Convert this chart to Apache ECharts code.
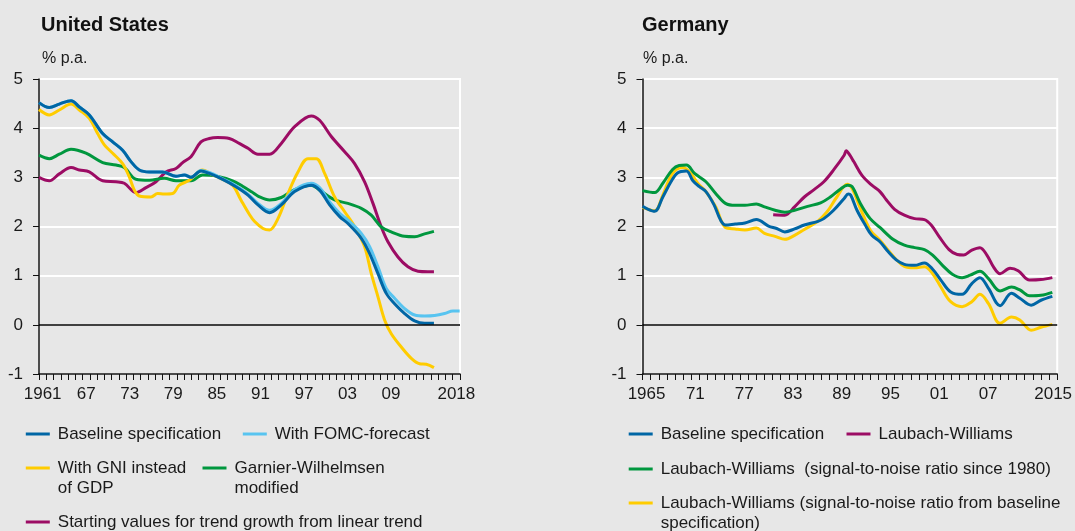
<!DOCTYPE html>
<html>
<head>
<meta charset="utf-8">
<script src="https://cdn.jsdelivr.net/npm/echarts@6/dist/echarts.min.js"></script>
<style>
html,body{margin:0;padding:0;background:#e7e7e7;}
#chart{width:1075px;height:531px;}
</style>
</head>
<body>
<div id="chart"></div>
<script>
// ---------- categories / tick labels ----------
const usYears = [];
for (let y = 1961; y <= 2018; y++) usYears.push(String(y));
const deYears = [];
for (let y = 1965; y <= 2015; y++) deYears.push(String(y));
const usTickYears  = ['1961','1967','1973','1979','1985','1991','1997','2003','2009','2018'];
const usTickLabels = ['1961','67','73','79','85','91','97','03','09','2018'];
const deTickYears  = ['1965','1971','1977','1983','1989','1995','2001','2007','2015'];
const deTickLabels = ['1965','71','77','83','89','95','01','07','2015'];

// ---------- United States series ([year, % p.a.]) ----------
const usBaseline = [[1961.0,4.52],[1962.42,4.42],[1963.8,4.49],[1965.41,4.56],[1966.56,4.43],[1967.93,4.27],[1969.77,3.89],[1971.15,3.72],[1972.52,3.55],[1973.67,3.32],[1974.82,3.15],[1976.2,3.11],[1978.03,3.11],[1979.87,3.02],[1981.02,3.05],[1981.94,3.0],[1983.31,3.13],[1984.46,3.08],[1986.3,2.96],[1988.13,2.81],[1989.79,2.64],[1991.17,2.44],[1992.77,2.28],[1994.38,2.44],[1996.22,2.71],[1998.51,2.84],[1999.66,2.74],[2001.04,2.44],[2002.42,2.20],[2003.56,2.06],[2005.4,1.76],[2006.55,1.45],[2007.7,1.04],[2008.84,0.64],[2009.99,0.43],[2011.37,0.23],[2012.75,0.08],[2014.12,0.03],[2015.41,0.03]];
const usFomc = [[1961.0,4.52],[1962.42,4.42],[1963.8,4.49],[1965.41,4.56],[1966.56,4.43],[1967.93,4.27],[1969.77,3.89],[1971.15,3.72],[1972.52,3.55],[1973.67,3.32],[1974.82,3.15],[1976.2,3.11],[1978.03,3.11],[1979.87,3.02],[1981.02,3.05],[1981.94,3.0],[1983.31,3.14],[1984.46,3.10],[1986.3,2.97],[1988.13,2.83],[1989.79,2.66],[1991.17,2.47],[1992.77,2.33],[1994.38,2.47],[1996.22,2.75],[1998.51,2.88],[1999.66,2.79],[2001.04,2.50],[2002.42,2.27],[2003.56,2.13],[2005.4,1.86],[2006.55,1.59],[2007.7,1.18],[2008.84,0.74],[2009.99,0.54],[2011.37,0.33],[2012.75,0.20],[2014.12,0.18],[2015.5,0.19],[2016.88,0.23],[2018.03,0.28],[2018.95,0.28]];
const usGni = [[1961.0,4.38],[1962.42,4.27],[1963.8,4.37],[1965.41,4.49],[1966.56,4.37],[1967.93,4.20],[1969.08,3.89],[1970.0,3.66],[1971.15,3.49],[1972.52,3.28],[1973.44,3.01],[1974.13,2.74],[1974.82,2.62],[1976.43,2.60],[1977.35,2.67],[1978.26,2.66],[1979.41,2.67],[1980.33,2.84],[1981.71,2.94],[1983.54,3.15],[1984.92,3.05],[1986.3,2.96],[1987.68,2.84],[1988.82,2.54],[1989.97,2.25],[1990.71,2.10],[1991.86,1.96],[1992.77,1.93],[1993.92,2.16],[1995.3,2.67],[1996.68,3.11],[1998.05,3.38],[1999.2,3.38],[2000.35,3.08],[2001.73,2.60],[2003.11,2.30],[2004.48,2.00],[2005.86,1.59],[2006.78,1.04],[2007.7,0.57],[2008.61,0.10],[2009.53,-0.18],[2010.91,-0.45],[2012.29,-0.68],[2013.44,-0.79],[2014.35,-0.80],[2015.41,-0.87]];
const usGarnier = [[1961.0,3.45],[1962.42,3.38],[1963.8,3.47],[1965.41,3.57],[1967.47,3.49],[1969.77,3.30],[1971.61,3.25],[1972.75,3.20],[1974.36,2.96],[1976.2,2.94],[1978.26,2.98],[1979.87,2.93],[1981.94,2.93],[1983.54,3.05],[1985.38,3.03],[1987.68,2.93],[1989.05,2.82],[1990.34,2.70],[1991.17,2.62],[1992.77,2.54],[1994.38,2.59],[1996.22,2.75],[1998.51,2.84],[1999.66,2.74],[2001.73,2.54],[2003.56,2.47],[2005.4,2.37],[2006.78,2.23],[2008.16,1.99],[2009.53,1.89],[2011.37,1.80],[2012.75,1.79],[2014.12,1.85],[2015.41,1.90]];
const usLinear = [[1961.0,3.00],[1962.42,2.93],[1963.8,3.07],[1965.41,3.20],[1966.56,3.15],[1967.93,3.11],[1969.77,2.93],[1971.61,2.91],[1972.75,2.88],[1974.36,2.69],[1975.74,2.79],[1977.12,2.91],[1978.49,3.11],[1979.87,3.18],[1980.79,3.30],[1981.94,3.42],[1983.31,3.72],[1984.46,3.79],[1985.61,3.81],[1987.22,3.79],[1988.59,3.69],[1989.79,3.59],[1991.17,3.47],[1992.77,3.47],[1994.38,3.69],[1996.22,4.03],[1998.51,4.25],[1999.66,4.16],[2001.27,3.83],[2003.11,3.52],[2004.48,3.28],[2005.86,2.91],[2007.01,2.47],[2008.16,1.99],[2009.07,1.69],[2010.45,1.38],[2011.83,1.18],[2013.21,1.09],[2014.58,1.08],[2015.41,1.08]];

// ---------- Germany series ([year, % p.a.]) ----------
const deBaseline = [[1965.0,2.41],[1965.7,2.35],[1966.5,2.31],[1967.5,2.60],[1968.5,2.91],[1969.3,3.09],[1970.4,3.13],[1971.2,2.93],[1972.0,2.81],[1972.8,2.71],[1973.8,2.44],[1974.6,2.13],[1975.2,2.03],[1976.4,2.05],[1977.6,2.07],[1979.0,2.14],[1980.5,2.01],[1981.5,1.96],[1982.5,1.89],[1983.7,1.95],[1984.9,2.03],[1986.5,2.10],[1987.3,2.16],[1988.5,2.33],[1989.8,2.57],[1990.3,2.66],[1990.6,2.64],[1991.38,2.33],[1992.39,2.03],[1993.2,1.82],[1994.2,1.69],[1995.2,1.49],[1996.2,1.32],[1997.2,1.23],[1998.46,1.21],[1999.67,1.26],[2000.68,1.13],[2001.69,0.91],[2002.9,0.67],[2004.3,0.62],[2005.5,0.84],[2006.5,0.96],[2007.55,0.74],[2008.97,0.39],[2010.38,0.64],[2011.4,0.54],[2012.8,0.40],[2014.0,0.50],[2015.4,0.58]];
const deLW = [[1981.07,2.24],[1982.5,2.23],[1983.7,2.40],[1984.9,2.60],[1986.1,2.75],[1987.3,2.91],[1988.5,3.15],[1989.8,3.45],[1990.05,3.54],[1990.5,3.45],[1990.98,3.32],[1991.99,3.04],[1993.2,2.84],[1994.2,2.71],[1995.0,2.54],[1996.0,2.35],[1997.2,2.23],[1998.46,2.16],[1999.67,2.14],[2000.5,2.03],[2001.5,1.79],[2002.7,1.53],[2003.7,1.43],[2004.5,1.42],[2005.5,1.52],[2006.5,1.57],[2007.35,1.42],[2008.16,1.18],[2008.97,1.04],[2010.2,1.15],[2011.2,1.10],[2012.6,0.91],[2014.0,0.92],[2015.4,0.96]];
const deLW1980 = [[1965.0,2.73],[1966.5,2.69],[1967.5,2.88],[1968.7,3.16],[1969.5,3.24],[1970.4,3.25],[1971.4,3.08],[1972.8,2.91],[1974.0,2.67],[1975.2,2.47],[1976.4,2.43],[1977.6,2.43],[1979.0,2.46],[1980.0,2.40],[1981.3,2.33],[1982.5,2.29],[1983.7,2.33],[1985.3,2.41],[1986.9,2.48],[1988.1,2.60],[1989.4,2.77],[1990.2,2.84],[1990.78,2.81],[1991.79,2.47],[1993.0,2.16],[1994.2,1.98],[1995.8,1.74],[1997.2,1.62],[1998.46,1.57],[1999.67,1.53],[2000.68,1.42],[2001.89,1.21],[2003.1,1.03],[2004.3,0.96],[2005.3,1.01],[2006.5,1.09],[2007.55,0.94],[2008.97,0.69],[2010.38,0.77],[2011.4,0.71],[2012.6,0.59],[2014.0,0.60],[2015.4,0.66]];
const deLWBase = [[1965.0,2.39],[1966.5,2.32],[1967.5,2.64],[1968.7,3.08],[1969.95,3.20],[1970.8,3.11],[1971.8,2.88],[1972.8,2.71],[1974.0,2.40],[1975.2,1.98],[1976.4,1.95],[1977.6,1.93],[1979.0,1.97],[1980.0,1.86],[1981.3,1.80],[1982.5,1.74],[1983.7,1.82],[1984.9,1.94],[1986.5,2.10],[1987.7,2.30],[1988.9,2.60],[1990.17,2.86],[1990.78,2.77],[1991.79,2.37],[1993.0,1.93],[1994.2,1.72],[1995.2,1.52],[1996.2,1.33],[1997.2,1.19],[1998.46,1.16],[1999.67,1.18],[2000.68,1.04],[2001.69,0.77],[2002.9,0.47],[2004.3,0.37],[2005.5,0.47],[2006.5,0.62],[2007.55,0.43],[2008.97,0.03],[2010.38,0.16],[2011.4,0.10],[2012.8,-0.11],[2014.0,-0.05],[2015.4,0.01]];

// ---------- styling ----------
const FONT = "'Liberation Sans', Arial, sans-serif";
const TXT = '#1a1a1a';
const C = { blue:'#0066a5', sky:'#58c4f0', yellow:'#ffcc00', green:'#00973e', purple:'#9c0c64' };

function catAxis(grid, years, tickYears, tickLabels) {
  return {
    type:'category', gridIndex:grid, data:years, boundaryGap:true, position:'bottom',
    axisLine:{show:true, onZero:false, lineStyle:{color:'#111', width:1.5}},
    axisTick:{show:true, interval:0, length:6, lineStyle:{color:'#111', width:1}},
    axisLabel:{
      interval:(i, v) => tickYears.indexOf(v) >= 0,
      formatter:(v) => { const k = tickYears.indexOf(v); return k >= 0 ? tickLabels[k] : ''; },
      fontSize:17, fontFamily:FONT, color:TXT, margin:12
    },
    splitLine:{show:false}
  };
}
function valXAxis(grid, min, max) {
  return { type:'value', gridIndex:grid, min:min, max:max, show:false, position:'bottom' };
}
function yAx(grid) {
  return {
    type:'value', gridIndex:grid, min:-1, max:5, interval:1,
    axisLine:{show:true, lineStyle:{color:'#111', width:1.5}},
    axisTick:{show:true, length:6, lineStyle:{color:'#111', width:1}},
    axisLabel:{fontSize:17, fontFamily:FONT, color:TXT, margin:16},
    splitLine:{show:true, lineStyle:{color:'#ffffff', width:2}}
  };
}
function line(name, data, color, xi, yi, extra) {
  return Object.assign({
    name:name, type:'line', data:data, xAxisIndex:xi, yAxisIndex:yi,
    showSymbol:false, symbol:'none', smooth:0.35, color:color,
    lineStyle:{color:color, width:3}, itemStyle:{color:color}, silent:true, animation:false
  }, extra || {});
}
const zeroLine = {
  silent:true, symbol:'none', animation:false,
  label:{show:false}, lineStyle:{color:'#000', width:1.5, type:'solid'},
  data:[{yAxis:0}]
};
// Two-line legend labels get an empty leading line so the icon sits beside the first line.
function leg(name, text, left, cy, twoLine) {
  const lh = twoLine ? 20 : 20;
  return {
    data:[name], left:left, top: twoLine ? cy - 1.5 * lh : cy - lh / 2, padding:0,
    orient:'horizontal', icon:'rect', itemWidth:24, itemHeight:3, selectedMode:false,
    formatter:() => twoLine ? ' \n' + text : text,
    textStyle:{fontSize:17, fontFamily:FONT, color:TXT, lineHeight:lh, padding:[0,0,0,3]}
  };
}

const option = {
  backgroundColor:'#e7e7e7',
  animation:false,
  title:[
    {text:'United States', left:41, top:13, padding:0, textStyle:{fontSize:20, fontWeight:'bold', fontFamily:FONT, color:'#111', lineHeight:24}},
    {text:'% p.a.', left:42, top:48.5, padding:0, textStyle:{fontSize:16, fontWeight:'normal', fontFamily:FONT, color:TXT, lineHeight:20}},
    {text:'Germany', left:642, top:13, padding:0, textStyle:{fontSize:20, fontWeight:'bold', fontFamily:FONT, color:'#111', lineHeight:24}},
    {text:'% p.a.', left:643, top:48.5, padding:0, textStyle:{fontSize:16, fontWeight:'normal', fontFamily:FONT, color:TXT, lineHeight:20}}
  ],
  grid:[
    {left:39, top:79, width:421, height:295, show:true, backgroundColor:'transparent', borderColor:'#ffffff', borderWidth:2},
    {left:642.5, top:79, width:420.5, height:295, show:true, backgroundColor:'transparent', borderColor:'#ffffff', borderWidth:2}
  ],
  xAxis:[
    catAxis(0, usYears, usTickYears, usTickLabels),
    valXAxis(0, 1961, 2019),
    catAxis(1, deYears, deTickYears, deTickLabels),
    valXAxis(1, 1965, 2016)
  ],
  yAxis:[ yAx(0), yAx(1) ],
  legend:[
    leg('Baseline specification', 'Baseline specification', 25.8, 434, false),
    leg('With FOMC-forecast', 'With FOMC-forecast', 242.8, 434, false),
    leg('With GNI instead of GDP', 'With GNI instead\nof GDP', 25.8, 468, true),
    leg('Garnier-Wilhelmsen modified', 'Garnier-Wilhelmsen\nmodified', 202.5, 468, true),
    leg('Starting values for trend growth from linear trend', 'Starting values for trend growth from linear trend', 25.8, 522, false),
    leg('Baseline specification (DE)', 'Baseline specification', 628.7, 434, false),
    leg('Laubach-Williams', 'Laubach-Williams', 846.5, 434, false),
    leg('Laubach-Williams (signal-to-noise ratio since 1980)', 'Laubach-Williams  (signal-to-noise ratio since 1980)', 628.7, 469, false),
    leg('Laubach-Williams (signal-to-noise ratio from baseline specification)', 'Laubach-Williams (signal-to-noise ratio from baseline\nspecification)', 628.7, 503, true)
  ],
  series:[
    line('Starting values for trend growth from linear trend', usLinear, C.purple, 1, 0, {markLine:zeroLine}),
    line('Garnier-Wilhelmsen modified', usGarnier, C.green, 1, 0),
    line('With GNI instead of GDP', usGni, C.yellow, 1, 0),
    line('With FOMC-forecast', usFomc, C.sky, 1, 0),
    line('Baseline specification', usBaseline, C.blue, 1, 0),
    line('Laubach-Williams', deLW, C.purple, 3, 1, {markLine:zeroLine}),
    line('Laubach-Williams (signal-to-noise ratio from baseline specification)', deLWBase, C.yellow, 3, 1),
    line('Laubach-Williams (signal-to-noise ratio since 1980)', deLW1980, C.green, 3, 1),
    line('Baseline specification (DE)', deBaseline, C.blue, 3, 1)
  ]
};

const chart = echarts.init(document.getElementById('chart'), null, {renderer:'canvas'});
chart.setOption(option);
</script>
</body>
</html>
